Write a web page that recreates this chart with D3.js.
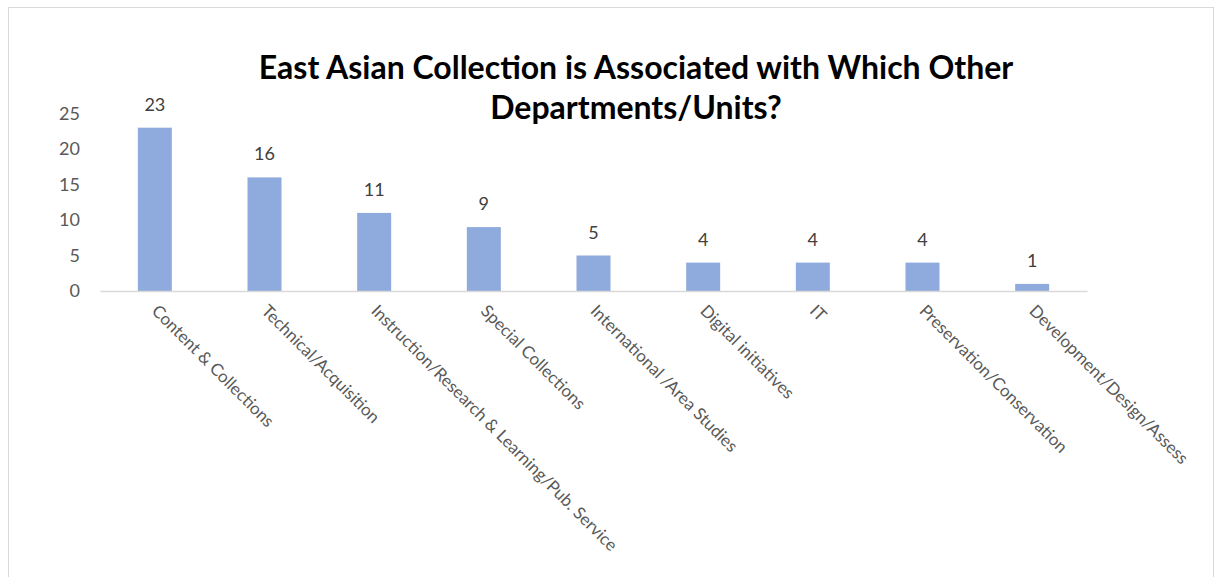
<!DOCTYPE html>
<html>
<head>
<meta charset="utf-8">
<script src="https://cdn.jsdelivr.net/npm/d3@7"></script>
<style>
  html, body { margin: 0; padding: 0; background: #fff; }
  svg { display: block; font-family: Lato, "Open Sans", sans-serif; }
</style>
</head>
<body>
<svg id="chart" width="1220" height="577"></svg>
<script>
// Departments / units and how many collections reported each association
const categories = [
  "Content & Collections",
  "Technical/Acquisition",
  "Instruction/Research & Learning/Pub. Service",
  "Special Collections",
  "International /Area Studies",
  "Digital initiatives",
  "IT",
  "Preservation/Conservation",
  "Development/Design/Assess"
];
const counts = [23, 16, 11, 9, 5, 4, 4, 4, 1];
const yTicks = [0, 5, 10, 15, 20, 25];
const titleLines = [
  "East Asian Collection is Associated with Which Other",
  "Departments/Units?"
];

const svg = d3.select("#chart");

// chart frame
svg.append("rect")
  .attr("x", 8.5).attr("y", 7.5)
  .attr("width", 1205).attr("height", 600)
  .attr("fill", "#fff")
  .attr("stroke", "#d9d9d9").attr("stroke-width", 1);

const plot = { left: 100, right: 1087, top: 113.5, bottom: 291 };

const x = d3.scaleBand()
  .domain(categories)
  .range([plot.left, plot.right])
  .paddingInner(0.69)
  .paddingOuter(0.345);

const y = d3.scaleLinear()
  .domain([0, 25])
  .range([plot.bottom, plot.top]);

// title
svg.append("text")
  .attr("x", 636)
  .attr("text-anchor", "middle")
  .attr("font-weight", "bold")
  .attr("font-size", 32)
  .attr("fill", "#000")
  .selectAll("tspan")
  .data(titleLines)
  .join("tspan")
  .attr("x", 636)
  .attr("y", (d, i) => 79 + i * 40)
  .text(d => d);

// y axis (labels only)
const yAxis = svg.append("g")
  .attr("transform", `translate(${plot.left},0)`)
  .call(d3.axisLeft(y).tickValues(yTicks).tickSize(0).tickPadding(20));
yAxis.select(".domain").remove();
yAxis.selectAll("text")
  .attr("font-family", "Lato, 'Open Sans', sans-serif")
  .attr("font-size", 18)
  .attr("fill", "#595959");

// bars
svg.append("g")
  .selectAll("rect")
  .data(categories)
  .join("rect")
  .attr("x", d => x(d))
  .attr("width", x.bandwidth())
  .attr("y", (d, i) => y(counts[i]))
  .attr("height", (d, i) => y(0) - y(counts[i]))
  .attr("fill", "#8faadc");

// value labels
svg.append("g")
  .selectAll("text")
  .data(categories)
  .join("text")
  .attr("x", d => x(d) + x.bandwidth() / 2)
  .attr("y", (d, i) => y(counts[i]) - 17)
  .attr("text-anchor", "middle")
  .attr("font-size", 18)
  .attr("fill", "#404040")
  .text((d, i) => counts[i]);

// x axis with rotated category labels
const xAxis = svg.append("g")
  .attr("transform", `translate(0,${plot.bottom})`)
  .call(d3.axisBottom(x).tickSize(0).tickSizeOuter(0).tickPadding(0));
xAxis.select(".domain")
  .attr("stroke", "#d9d9d9")
  .attr("stroke-width", 1.5);
xAxis.selectAll(".tick text")
  .attr("font-family", "Lato, 'Open Sans', sans-serif")
  .attr("font-size", 17)
  .attr("fill", "#595959")
  .attr("text-anchor", "start")
  .attr("dy", null)
  .attr("y", 0)
  .attr("x", 0)
  .attr("transform", "translate(-4,21) rotate(45)");
</script>
</body>
</html>
